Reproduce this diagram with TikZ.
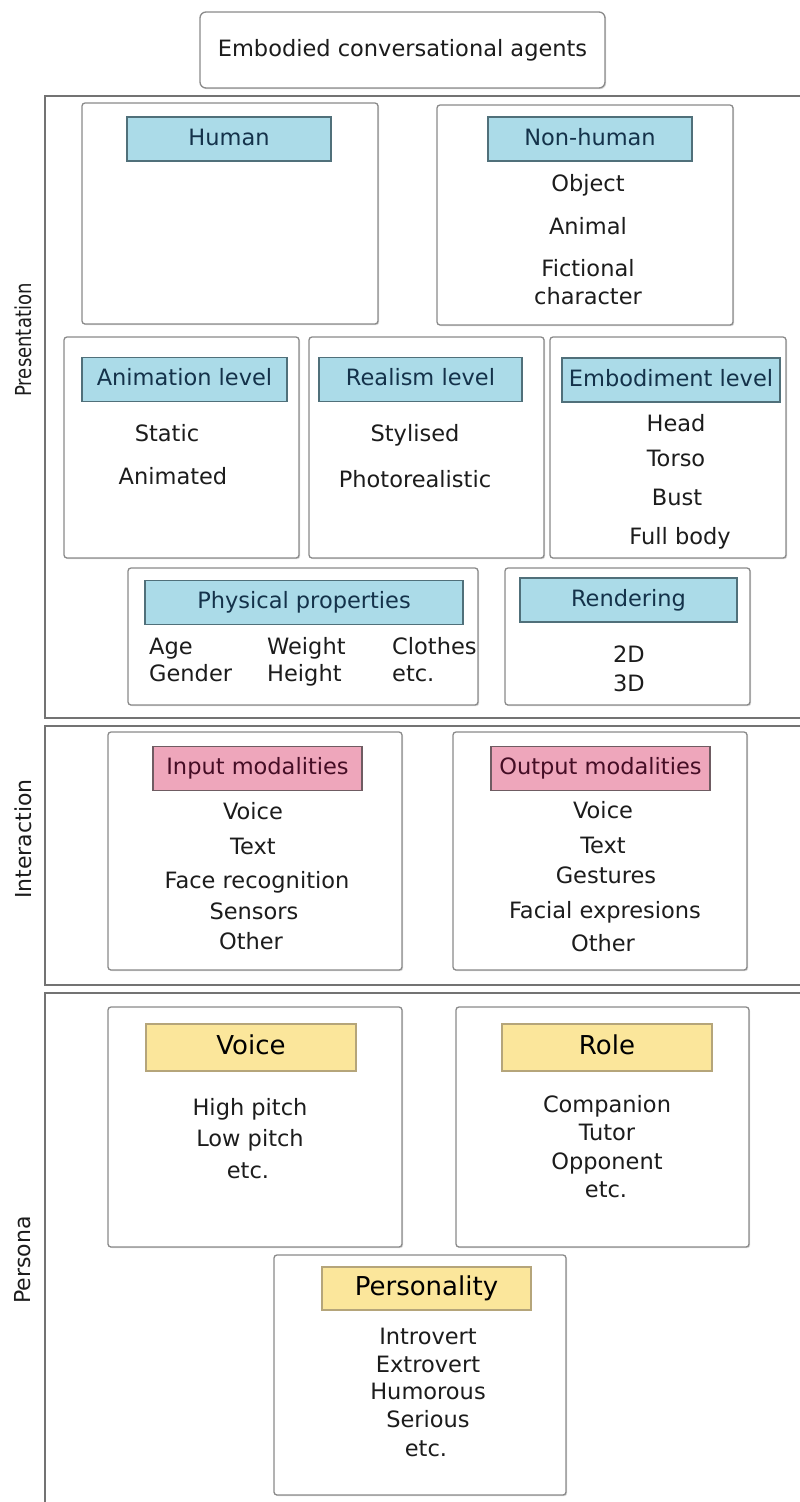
\documentclass[tikz,border=0pt]{standalone}
\usepackage{fontspec}
\setmainfont{DejaVu Sans}
\usetikzlibrary{shadows}

\definecolor{framegray}{HTML}{8A8A8A}
\definecolor{sectiongray}{HTML}{737373}
\definecolor{bluefill}{HTML}{ABDBE8}
\definecolor{blueedge}{HTML}{50707A}
\definecolor{bluetext}{HTML}{14324A}
\definecolor{pinkfill}{HTML}{EEA6BB}
\definecolor{pinkedge}{HTML}{6F5C62}
\definecolor{pinktext}{HTML}{450D25}
\definecolor{yellowfill}{HTML}{FBE69B}
\definecolor{yellowedge}{HTML}{B5A57A}
\definecolor{bodytext}{HTML}{1C1C1C}

\tikzset{
  panel/.style={draw=framegray, line width=1.3pt, rounded corners=3pt, fill=white,
    inner sep=0pt, outer sep=0pt,
    drop shadow={shadow xshift=1.2pt, shadow yshift=-1.2pt, opacity=0.3}},
  section/.style={draw=sectiongray, line width=1.6pt},
  hdr/.style={line width=1.2pt, inner sep=0pt, outer sep=0pt, minimum height=44pt,
    font=\fontsize{22.5}{26}\selectfont, text height=16pt, text depth=4pt},
  bluehdr/.style={hdr, fill=bluefill, draw=blueedge, text=bluetext},
  pinkhdr/.style={hdr, fill=pinkfill, draw=pinkedge, text=pinktext},
  yellowhdr/.style={hdr, fill=yellowfill, draw=yellowedge, text=black,
    font=\fontsize{26}{30}\selectfont, text height=18pt, text depth=5pt},
  item/.style={font=\fontsize{22.5}{26}\selectfont, text=bodytext, inner sep=0pt,
    text height=16pt, text depth=4pt},
  itemleft/.style={item, anchor=west},
  sidelabel/.style={font=\fontsize{22}{26}\selectfont, text=bodytext, rotate=90, inner sep=0pt}
}

\begin{document}
\begin{tikzpicture}[x=1pt, y=-1pt]
\useasboundingbox (0,0) rectangle (800,1502);
\clip (0,0) rectangle (800,1502);

% title
\node[panel, rounded corners=6pt, minimum width=405pt, minimum height=76pt,
  font=\fontsize{22.5}{26}\selectfont, text=bodytext, text height=16pt, text depth=4pt]
  (title) at (402.5,50) {Embodied conversational agents};

% section frames
\draw[section] (45,96) rectangle (830,718);
\draw[section] (45,726) rectangle (830,985);
\draw[section] (45,993) rectangle (830,1540);

\node[sidelabel] (presentation) at (23,340) {\scalebox{0.82}[1]{Presentation}};
\node[sidelabel] (interaction) at (23,839) {Interaction};
\node[sidelabel] (persona) at (23,1260) {Persona};

% ---------- Presentation ----------
\node[panel, minimum width=296pt, minimum height=221pt] (human) at (230,213.5) {};
\node[bluehdr, minimum width=204pt] (humanH) at (229,139) {Human};

\node[panel, minimum width=296pt, minimum height=220pt] (nonhuman) at (585,215) {};
\node[bluehdr, minimum width=204pt] (nonhumanH) at (590,139) {Non-human};
\node[item] (object) at (588,185) {Object};
\node[item] (animal) at (588,228) {Animal};
\node[item] (fictional) at (588,270) {Fictional};
\node[item] (character) at (588,298) {character};

\node[panel, minimum width=235pt, minimum height=221pt] (animation) at (181.5,447.5) {};
\node[bluehdr, minimum width=205pt] (animationH) at (184.5,379.5) {Animation level};
\node[item] (static) at (167,435) {Static};
\node[item] (animated) at (173,478) {Animated};

\node[panel, minimum width=235pt, minimum height=221pt] (realism) at (426.5,447.5) {};
\node[bluehdr, minimum width=203pt] (realismH) at (420.5,379.5) {Realism level};
\node[item] (stylised) at (415,435) {Stylised};
\node[item] (photo) at (415,481) {Photorealistic};

\node[panel, minimum width=236pt, minimum height=221pt] (embodiment) at (668,447.5) {};
\node[bluehdr, minimum width=218pt] (embodimentH) at (671,380) {Embodiment level};
\node[item] (head) at (676,425) {Head};
\node[item] (torso) at (676,460) {Torso};
\node[item] (bust) at (677,499) {Bust};
\node[item] (fullbody) at (680,538) {Full body};

\node[panel, minimum width=350pt, minimum height=137pt] (physical) at (303,636.5) {};
\node[bluehdr, minimum width=318pt] (physicalH) at (304,602.5) {Physical properties};
\node[itemleft] (age) at (149,648) {Age};
\node[itemleft] (gender) at (149,675) {Gender};
\node[itemleft] (weight) at (267,648) {Weight};
\node[itemleft] (height) at (267,675) {Height};
\node[itemleft] (clothes) at (392,648) {Clothes};
\node[itemleft] (etcA) at (392,675) {etc.};

\node[panel, minimum width=245pt, minimum height=137pt] (rendering) at (627.5,636.5) {};
\node[bluehdr, minimum width=217pt] (renderingH) at (628.5,600) {Rendering};
\node[item] (twoD) at (629,656) {2D};
\node[item] (threeD) at (629,685) {3D};

% ---------- Interaction ----------
\node[panel, minimum width=294pt, minimum height=238pt] (input) at (255,851) {};
\node[pinkhdr, minimum width=209pt] (inputH) at (257.5,768.5) {Input modalities};
\node[item] (inVoice) at (253,813) {Voice};
\node[item] (inText) at (253,848) {Text};
\node[item] (inFace) at (257,882) {Face recognition};
\node[item] (inSensors) at (254,913) {Sensors};
\node[item] (inOther) at (251,943) {Other};

\node[panel, minimum width=294pt, minimum height=238pt] (output) at (600,851) {};
\node[pinkhdr, minimum width=219pt] (outputH) at (600.5,768.5) {Output modalities};
\node[item] (outVoice) at (603,812) {Voice};
\node[item] (outText) at (603,847) {Text};
\node[item] (outGestures) at (606,877) {Gestures};
\node[item] (outFacial) at (605,912) {Facial expresions};
\node[item] (outOther) at (603,945) {Other};

% ---------- Persona ----------
\node[panel, minimum width=294pt, minimum height=240pt] (voice) at (255,1127) {};
\node[yellowhdr, minimum width=210pt, minimum height=47pt] (voiceH) at (251,1047.5) {Voice};
\node[item] (high) at (250,1109) {High pitch};
\node[item] (low) at (250,1140) {Low pitch};
\node[item] (etcB) at (248,1172) {etc.};

\node[panel, minimum width=293pt, minimum height=240pt] (role) at (602.5,1127) {};
\node[yellowhdr, minimum width=210pt, minimum height=47pt] (roleH) at (607,1047.5) {Role};
\node[item] (companion) at (607,1106) {Companion};
\node[item] (tutor) at (607,1134) {Tutor};
\node[item] (opponent) at (607,1163) {Opponent};
\node[item] (etcC) at (606,1191) {etc.};

\node[panel, minimum width=292pt, minimum height=240pt] (personality) at (420,1375) {};
\node[yellowhdr, minimum width=209pt, minimum height=43pt] (personalityH) at (426.5,1288.5) {Personality};
\node[item] (introvert) at (428,1338) {Introvert};
\node[item] (extrovert) at (428,1366) {Extrovert};
\node[item] (humorous) at (428,1393) {Humorous};
\node[item] (serious) at (428,1421) {Serious};
\node[item] (etcD) at (426,1450) {etc.};
\end{tikzpicture}
\end{document}
